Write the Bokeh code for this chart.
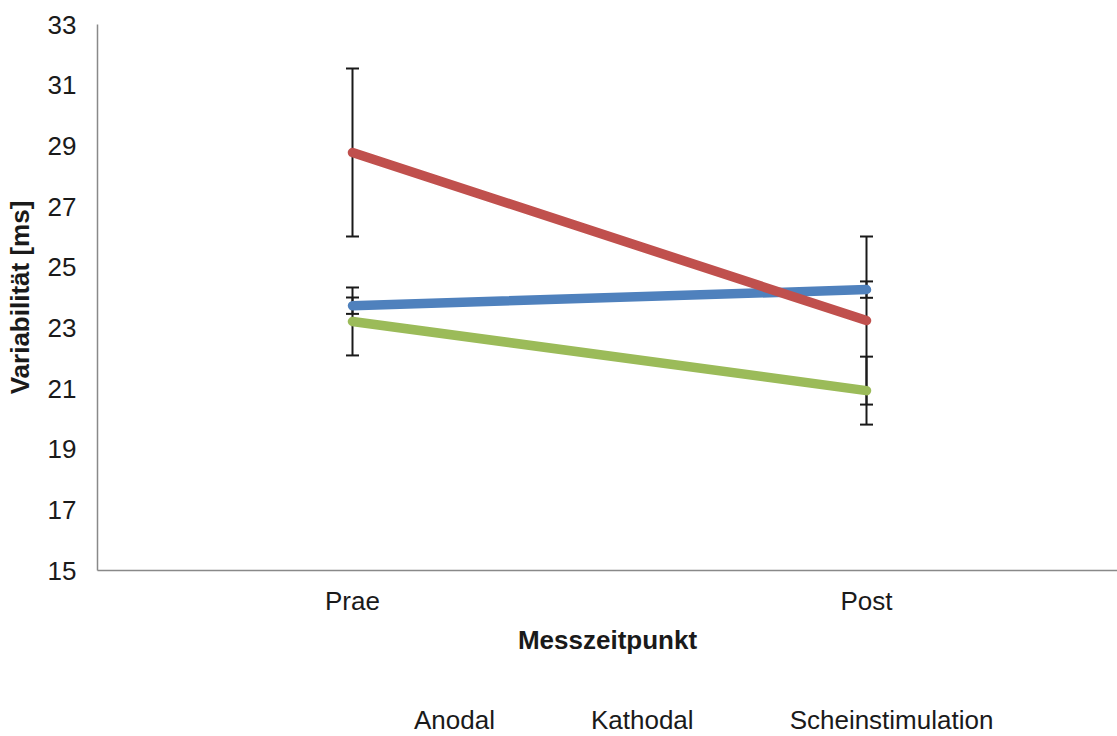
from bokeh.plotting import figure
from bokeh.models import (ColumnDataSource, Range1d, FixedTicker, Whisker, TeeHead,
                          Legend, LegendItem)
from bokeh.layouts import column
from bokeh.embed import file_html
from bokeh.resources import INLINE

categories = ["Prae", "Post"]
series_names = ["Anodal", "Kathodal", "Scheinstimulation"]
anodal = [23.73, 24.26]
kathodal = [28.78, 23.24]
schein = [23.21, 20.93]
anodal_err = [0.27, 0.27]
kathodal_err = [2.77, 2.77]
schein_err = [1.12, 1.12]
colors = ["#4F81BD", "#C0504D", "#9BBB59"]
y_ticks = [15, 17, 19, 21, 23, 25, 27, 29, 31, 33]

FONT = "Liberation Sans"
FS = "26px"
LEFT, TOP, BOTTOM = 97, 24, 130
FRAME_W, FRAME_H = 1020, 546
LEG_H = 36

px_per_unit = 514.0
x_start = -255.0 / px_per_unit
x_end = x_start + FRAME_W / px_per_unit

p = figure(frame_width=FRAME_W, frame_height=FRAME_H, output_backend="svg", toolbar_location=None,
           x_range=Range1d(x_start, x_end), y_range=Range1d(15, 33),
           min_border_left=LEFT, min_border_top=TOP, min_border_bottom=BOTTOM,
           min_border_right=0)
p.outline_line_color = None
p.grid.visible = False
p.background_fill_color = "white"
p.border_fill_color = "white"

xs = list(range(len(categories)))

# error bars
for vals, errs in [(anodal, anodal_err), (kathodal, kathodal_err), (schein, schein_err)]:
    src = ColumnDataSource(dict(x=xs,
                                upper=[v + e for v, e in zip(vals, errs)],
                                lower=[v - e for v, e in zip(vals, errs)]))
    w = Whisker(source=src, base="x", upper="upper", lower="lower",
                line_color="#1a1a1a", line_width=2,
                upper_head=TeeHead(size=13, line_color="#1a1a1a", line_width=2),
                lower_head=TeeHead(size=13, line_color="#1a1a1a", line_width=2))
    p.add_layout(w)

for vals, c in zip([anodal, kathodal, schein], colors):
    p.line(xs, vals, line_color=c, line_width=9.5, line_cap="round", line_join="round")

# axes
for ax in (p.xaxis[0], p.yaxis[0]):
    ax.axis_line_color = "#898989"
    ax.axis_line_width = 1.5
    ax.major_tick_line_color = None
    ax.minor_tick_line_color = None
    ax.major_tick_out = 0
    ax.major_tick_in = 0
    ax.major_label_text_font = FONT
    ax.major_label_text_font_size = FS
    ax.major_label_text_color = "#1a1a1a"
    ax.axis_label_text_font = FONT
    ax.axis_label_text_font_size = FS
    ax.axis_label_text_font_style = "bold"
    ax.axis_label_text_color = "#1a1a1a"

p.xaxis.ticker = FixedTicker(ticks=xs)
p.xaxis.major_label_overrides = {i: c for i, c in enumerate(categories)}
p.xaxis.major_label_standoff = 15
p.xaxis.axis_label = "Messzeitpunkt"
p.xaxis.axis_label_standoff = 6

p.yaxis.ticker = FixedTicker(ticks=y_ticks)
p.yaxis.major_label_standoff = 21
p.yaxis.axis_label = "Variabilität [ms]"
p.yaxis.axis_label_standoff = 10

# legend strip below the chart
leg = figure(width=LEFT + FRAME_W, height=LEG_H, output_backend="svg", toolbar_location=None,
             x_range=Range1d(0, 1), y_range=Range1d(0, 1),
             x_axis_type=None, y_axis_type=None,
             min_border_left=0, min_border_right=0, min_border_top=0, min_border_bottom=0)
leg.outline_line_color = None
leg.grid.visible = False
leg.background_fill_color = "white"
leg.border_fill_color = "white"

leg_renderers = []
for c in colors:
    r = leg.line([], [], line_color=c, line_width=9.5, line_cap="round", line_join="round")
    leg_renderers.append(r)

legend = Legend(items=[LegendItem(label=n, renderers=[r]) for n, r in zip(series_names, leg_renderers)],
                orientation="horizontal", location=(255, 0),
                glyph_width=60, glyph_height=25, label_height=25, label_standoff=2,
                spacing=34, padding=0, margin=0,
                label_text_font=FONT, label_text_font_size=FS,
                label_text_color="#1a1a1a",
                border_line_color=None, background_fill_alpha=0)
leg.add_layout(legend, "center")

layout = column(p, leg)
open("out.html", "w").write(file_html(layout, INLINE))
